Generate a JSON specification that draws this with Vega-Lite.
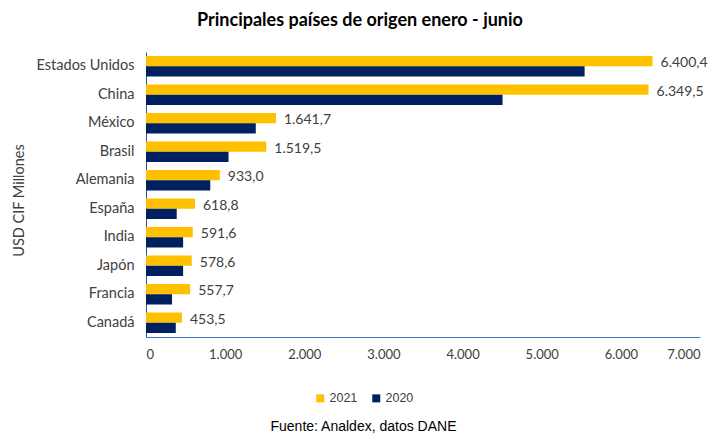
{
  "$schema": "https://vega.github.io/schema/vega-lite/v6.json",
  "autosize": {"type": "none"},
  "width": 554,
  "height": 285,
  "padding": {"left": 146, "top": 52, "right": 17, "bottom": 97},
  "background": "white",
  "title": {
    "text": "Principales países de origen enero - junio",
    "font": "Lato",
    "fontSize": 18,
    "fontWeight": "bold",
    "color": "#000000",
    "anchor": "middle",
    "dx": -63,
    "offset": 22
  },
  "data": {
    "values": [
      {"pais": "Estados Unidos", "anio": "2021", "valor": 6400.4},
      {"pais": "Estados Unidos", "anio": "2020", "valor": 5542},
      {"pais": "China", "anio": "2021", "valor": 6349.5},
      {"pais": "China", "anio": "2020", "valor": 4505},
      {"pais": "México", "anio": "2021", "valor": 1641.7},
      {"pais": "México", "anio": "2020", "valor": 1387},
      {"pais": "Brasil", "anio": "2021", "valor": 1519.5},
      {"pais": "Brasil", "anio": "2020", "valor": 1043},
      {"pais": "Alemania", "anio": "2021", "valor": 933.0},
      {"pais": "Alemania", "anio": "2020", "valor": 812},
      {"pais": "España", "anio": "2021", "valor": 618.8},
      {"pais": "España", "anio": "2020", "valor": 388},
      {"pais": "India", "anio": "2021", "valor": 591.6},
      {"pais": "India", "anio": "2020", "valor": 469},
      {"pais": "Japón", "anio": "2021", "valor": 578.6},
      {"pais": "Japón", "anio": "2020", "valor": 469},
      {"pais": "Francia", "anio": "2021", "valor": 557.7},
      {"pais": "Francia", "anio": "2020", "valor": 329},
      {"pais": "Canadá", "anio": "2021", "valor": 453.5},
      {"pais": "Canadá", "anio": "2020", "valor": 376}
    ]
  },
  "encoding": {
    "y": {
      "field": "pais",
      "type": "nominal",
      "sort": null,
      "scale": {"paddingInner": 0.28, "paddingOuter": 0.14},
      "axis": {
        "title": "USD CIF Millones",
        "titleFont": "Lato",
        "titleFontSize": 14.5,
        "titleFontWeight": "normal",
        "titleColor": "#404040",
        "titleX": -127,
        "titleY": 148,
        "titleAlign": "center",
        "titleBaseline": "middle",
        "labelFont": "Lato",
        "labelFontSize": 14.5,
        "labelColor": "#404040",
        "labelPadding": 12,
        "ticks": false,
        "domainColor": "#2F5597",
        "domainWidth": 1
      }
    },
    "yOffset": {"field": "anio", "type": "nominal", "sort": ["2021", "2020"], "scale": {"paddingInner": 0, "paddingOuter": 0}},
    "x": {
      "field": "valor",
      "type": "quantitative",
      "scale": {"domain": [0, 7000], "nice": false},
      "axis": {
        "values": [0, 1000, 2000, 3000, 4000, 5000, 6000, 7000],
        "format": ",.0f",
        "grid": false,
        "ticks": false,
        "labelFont": "Lato",
        "labelFontSize": 13,
        "labelColor": "#404040",
        "labelPadding": 11,
        "domainColor": "#4A72C0",
        "domainWidth": 1,
        "title": "Fuente: Analdex, datos DANE",
        "titleFont": "Liberation Sans",
        "titleFontSize": 14,
        "titleFontWeight": "normal",
        "titleColor": "#000000",
        "titleX": 217,
        "titleY": 89,
        "titleAlign": "center",
        "titleBaseline": "middle"
      }
    }
  },
  "layer": [
    {
      "mark": {"type": "bar"},
      "encoding": {
        "color": {
          "field": "anio",
          "type": "nominal",
          "scale": {"domain": ["2021", "2020"], "range": ["#FFC000", "#002060"]},
          "legend": {
            "title": null,
            "orient": "none",
            "direction": "horizontal",
            "legendX": 168,
            "legendY": 340,
            "symbolType": "square",
            "symbolSize": 64,
            "symbolStrokeWidth": 0,
            "labelFont": "Liberation Sans",
            "labelFontSize": 12.5,
            "labelColor": "#404040",
            "columnPadding": 12,
            "labelOffset": 3
          }
        }
      }
    },
    {
      "transform": [{"filter": "datum.anio === '2021'"}],
      "mark": {"type": "text", "align": "left", "baseline": "middle", "dx": 8, "dy": 2, "font": "Lato", "fontSize": 14, "color": "#404040"},
      "encoding": {
        "text": {"field": "valor", "type": "quantitative", "format": ",.1f"}
      }
    }
  ],
  "config": {
    "view": {"stroke": null},
    "locale": {
      "number": {"decimal": ",", "thousands": ".", "grouping": [3], "currency": ["$", ""]}
    }
  }
}
